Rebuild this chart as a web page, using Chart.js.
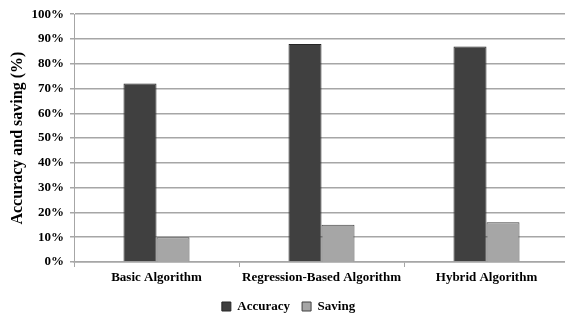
<!DOCTYPE html>
<html>
<head>
<meta charset="utf-8">
<script src="https://cdn.jsdelivr.net/npm/chart.js@4/dist/chart.umd.min.js"></script>
<style>
  html, body { margin: 0; padding: 0; background: #fff; overflow: hidden; }
  /* plot runs a few px past the right edge, like the cropped original */
  #wrap { width: 565px; height: 316px; overflow: hidden; }
</style>
</head>
<body>
<div id="wrap"><canvas id="chart" width="569" height="316"></canvas></div>
<script>
// categories + series
const categories = ['Basic Algorithm', 'Regression-Based Algorithm', 'Hybrid Algorithm'];
const accuracy = [72, 88, 87];
const saving = [10, 15, 16];
const yTicks = [0, 10, 20, 30, 40, 50, 60, 70, 80, 90, 100];

const FONT = '"Liberation Serif", "Times New Roman", serif';
const GRID = '#a6a6a6';

new Chart(document.getElementById('chart'), {
  type: 'bar',
  data: {
    labels: categories,
    datasets: [
      {
        label: 'Accuracy',
        data: accuracy,
        backgroundColor: '#404040',
        borderColor: '#262626',
        borderWidth: 1,
        barPercentage: 1,
        categoryPercentage: 0.4,
      },
      {
        label: 'Saving',
        data: saving,
        backgroundColor: '#a6a6a6',
        borderColor: '#404040',
        borderWidth: 1,
        barPercentage: 1,
        categoryPercentage: 0.4,
      },
    ],
  },
  options: {
    responsive: false,
    animation: false,
    layout: { padding: { top: 14.2, right: 0, left: 8, bottom: -7 } },
    plugins: {
      tooltip: { enabled: false },
      legend: {
        position: 'bottom',
        labels: {
          boxWidth: 9,
          boxHeight: 9,
          padding: 12,
          color: '#000',
          font: { family: FONT, size: 13, weight: 'bold' },
        },
      },
    },
    scales: {
      x: {
        offset: true,
        grid: {
          offset: true,
          drawOnChartArea: false,
          drawTicks: true,
          tickLength: 5,
          color: GRID,
        },
        border: { color: GRID, width: 1.5 },
        ticks: {
          color: '#000',
          padding: 3,
          maxRotation: 0,
          font: { family: FONT, size: 13, weight: 'bold' },
        },
        afterFit: (s) => { s.height = 26; },
      },
      y: {
        min: 0,
        max: 100,
        afterBuildTicks: (s) => { s.ticks = yTicks.map(v => ({ value: v })); },
        grid: { color: GRID, tickLength: 4, lineWidth: 1.5 },
        border: { color: GRID },
        ticks: {
          color: '#000',
          padding: 6,
          font: { family: FONT, size: 13, weight: 'bold' },
          callback: (v) => v + '%',
        },
        title: {
          display: true,
          text: 'Accuracy and saving (%)',
          color: '#000',
          padding: { top: 0, bottom: 4 },
          font: { family: FONT, size: 16, weight: 'bold' },
        },
        afterFit: (s) => { s.width = 66; },
      },
    },
  },
});
</script>
</body>
</html>
